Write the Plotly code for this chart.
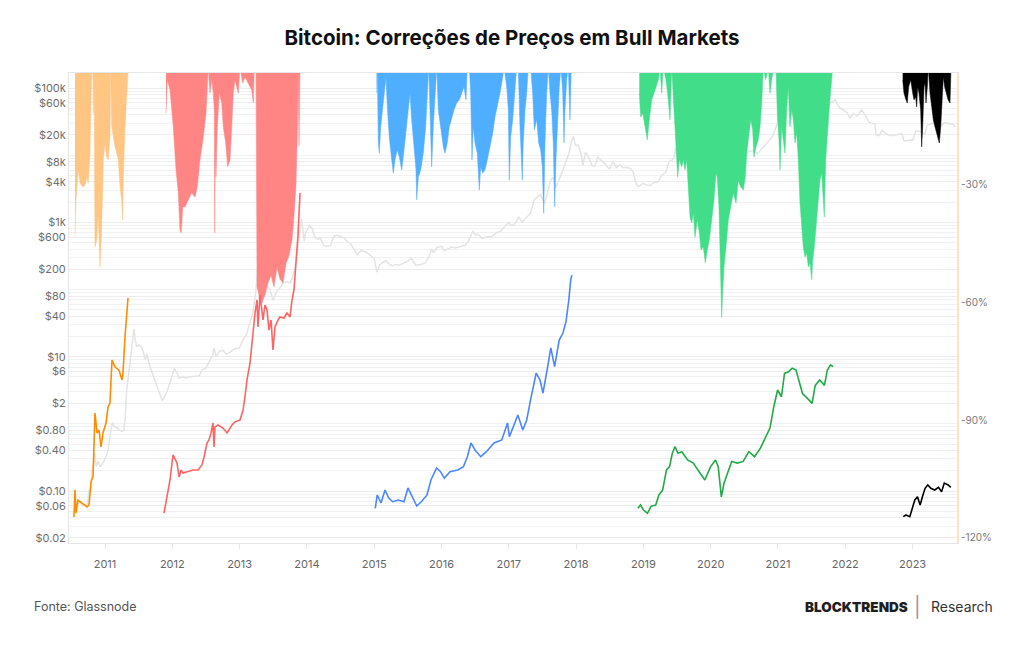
import plotly.graph_objects as go

# ---------------- DATA ----------------
years = list(range(2011, 2024))
year_labels = [str(y) for y in years]

price_tickvals = [0.02, 0.06, 0.10, 0.40, 0.80, 2, 6, 10, 40, 80, 200, 600,
                  1000, 4000, 8000, 20000, 60000, 100000]
price_ticktext = ["$0.02", "$0.06", "$0.10", "$0.40", "$0.80", "$2", "$6", "$10",
                  "$40", "$80", "$200", "$600", "$1k", "$4k", "$8k", "$20k", "$60k", "$100k"]
grid_minor = [m * 10 ** e for e in range(-2, 6) for m in range(1, 10)]

dd_tickvals = [-30, -60, -90, -120]
dd_ticktext = ["-30%", "-60%", "-90%", "-120%"]

# BTC price (grey)
btc_t = [2010.54, 2010.56, 2010.60, 2010.63, 2010.66, 2010.70, 2010.74, 2010.76, 2010.79, 2010.80,
         2010.83, 2010.85, 2010.87, 2010.90, 2010.93, 2010.96, 2011.00, 2011.04, 2011.08, 2011.11,
         2011.14, 2011.18, 2011.22, 2011.25, 2011.28, 2011.30, 2011.32, 2011.35, 2011.38, 2011.41,
         2011.43, 2011.45, 2011.47, 2011.50, 2011.55, 2011.60, 2011.62, 2011.67, 2011.72, 2011.77,
         2011.80, 2011.85, 2011.88, 2011.92, 2011.97, 2012.00, 2012.03, 2012.06, 2012.10, 2012.15,
         2012.20, 2012.25, 2012.30, 2012.35, 2012.40, 2012.45, 2012.50, 2012.55, 2012.60, 2012.62,
         2012.65, 2012.70, 2012.75, 2012.80, 2012.85, 2012.90, 2012.95, 2013.00, 2013.05, 2013.10,
         2013.15, 2013.20, 2013.24, 2013.27, 2013.29, 2013.32, 2013.35, 2013.40, 2013.45, 2013.50,
         2013.55, 2013.60, 2013.65, 2013.70, 2013.75, 2013.78, 2013.82, 2013.86, 2013.90, 2013.92,
         2013.94, 2013.96, 2013.98, 2014.00, 2014.04, 2014.08, 2014.12, 2014.16, 2014.20, 2014.25,
         2014.30, 2014.35, 2014.40, 2014.45, 2014.50, 2014.55, 2014.60, 2014.65, 2014.70, 2014.75,
         2014.80, 2014.85, 2014.90, 2014.95, 2015.00, 2015.04, 2015.08, 2015.12, 2015.17, 2015.22,
         2015.27, 2015.32, 2015.37, 2015.43, 2015.50, 2015.55, 2015.62, 2015.68, 2015.75, 2015.82,
         2015.85, 2015.88, 2015.93, 2016.00, 2016.04, 2016.10, 2016.15, 2016.20, 2016.28, 2016.35,
         2016.40, 2016.45, 2016.47, 2016.50, 2016.55, 2016.60, 2016.68, 2016.75, 2016.82, 2016.88,
         2016.95, 2017.00, 2017.02, 2017.08, 2017.15, 2017.20, 2017.25, 2017.32, 2017.38, 2017.42,
         2017.47, 2017.53, 2017.58, 2017.62, 2017.66, 2017.70, 2017.75, 2017.80, 2017.83, 2017.87,
         2017.90, 2017.93, 2017.96, 2017.99, 2018.03, 2018.08, 2018.10, 2018.14, 2018.18, 2018.24,
         2018.28, 2018.32, 2018.38, 2018.43, 2018.47, 2018.50, 2018.55, 2018.60, 2018.65, 2018.70,
         2018.75, 2018.80, 2018.85, 2018.88, 2018.92, 2018.96, 2019.00, 2019.05, 2019.10, 2019.15,
         2019.22, 2019.27, 2019.33, 2019.38, 2019.43, 2019.46, 2019.48, 2019.50, 2019.55, 2019.58,
         2019.63, 2019.68, 2019.72, 2019.78, 2019.82, 2019.87, 2019.92, 2019.98, 2020.04, 2020.10,
         2020.15, 2020.18, 2020.20, 2020.25, 2020.30, 2020.36, 2020.45, 2020.50, 2020.55, 2020.62,
         2020.70, 2020.78, 2020.85, 2020.92, 2020.98, 2021.03, 2021.08, 2021.12, 2021.15, 2021.20,
         2021.28, 2021.32, 2021.37, 2021.40, 2021.45, 2021.52, 2021.55, 2021.60, 2021.65, 2021.70,
         2021.74, 2021.78, 2021.82, 2021.85, 2021.88, 2021.93, 2021.98, 2022.03, 2022.07, 2022.12,
         2022.17, 2022.24, 2022.30, 2022.35, 2022.40, 2022.44, 2022.46, 2022.50, 2022.55, 2022.60,
         2022.65, 2022.70, 2022.80, 2022.84, 2022.87, 2022.90, 2022.96, 2023.00, 2023.05, 2023.12,
         2023.18, 2023.22, 2023.30, 2023.35, 2023.42, 2023.47, 2023.55, 2023.60, 2023.63]
btc_p = [0.08, 0.07, 0.065, 0.07, 0.062, 0.062, 0.065, 0.10, 0.10, 0.19,
         0.25, 0.36, 0.23, 0.28, 0.23, 0.25, 0.30, 0.38, 0.70, 1.05,
         0.90, 0.87, 0.80, 0.78, 0.80, 1.20, 3.0, 5.5, 8.5, 17,
         26, 18, 14, 15, 13.5, 9, 11, 7, 5, 3.5,
         3.0, 2.2, 2.5, 3.0, 4.2, 5.3, 6.7, 6.0, 4.8, 5.0,
         4.8, 5.0, 5.0, 5.1, 5.2, 6.5, 6.8, 8.5, 10.5, 13.5,
         10, 12, 12.4, 11.0, 11.5, 12.6, 13.3, 13.5, 18, 21,
         30, 46, 90, 230, 70, 120, 130, 115, 100, 68,
         95, 105, 125, 130, 125, 145, 200, 400, 900, 1130,
         800, 520, 700, 750, 900, 800, 600, 560, 580, 450,
         440, 450, 620, 640, 620, 590, 520, 480, 400, 330,
         380, 370, 350, 320, 290, 180, 230, 250, 270, 240,
         225, 235, 230, 245, 265, 290, 230, 235, 245, 310,
         400, 350, 420, 440, 380, 400, 430, 415, 430, 455,
         520, 700, 750, 650, 665, 575, 610, 620, 700, 740,
         900, 1000, 900, 920, 1200, 1000, 1150, 1350, 2200, 2400,
         2600, 1900, 2800, 4200, 4700, 3300, 4300, 5800, 7200, 9000,
         11000, 16000, 19100, 14000, 14000, 10000, 7000, 11000, 9500, 7000,
         6800, 9300, 8200, 7500, 6500, 6300, 8000, 6500, 7200, 6500,
         6600, 6400, 5600, 4000, 3400, 3600, 3800, 3600, 3500, 3900,
         4000, 5000, 5500, 8000, 8500, 9500, 12800, 10800, 9800, 11800,
         10300, 10500, 8300, 8200, 9400, 8500, 7200, 7200, 8500, 10000,
         9000, 8000, 5000, 6500, 7500, 9600, 9300, 9200, 11000, 11700,
         10600, 13000, 15500, 19000, 28000, 39000, 32000, 47000, 48000, 58000,
         63000, 55000, 57000, 37000, 35000, 33000, 30000, 40000, 48000, 43000,
         48000, 61000, 63000, 67000, 58000, 49000, 47000, 42000, 36000, 42000,
         38000, 47000, 39000, 31000, 30000, 29000, 20000, 19500, 23500, 21000,
         20000, 19500, 20500, 21000, 16500, 16200, 16800, 16600, 23000, 22500,
         20500, 28000, 30000, 27500, 26800, 30500, 29200, 29300, 26100]

# Bull market cycles: price path (left axis)
c1_t = [2010.539, 2010.554, 2010.569, 2010.599, 2010.658, 2010.733, 2010.762, 2010.792, 2010.822, 2010.837,
        2010.851, 2010.881, 2010.911, 2010.941, 2010.970, 2011.015, 2011.045, 2011.074, 2011.104, 2011.149,
        2011.208, 2011.253, 2011.267, 2011.297, 2011.327, 2011.342]
c1_p = [0.041, 0.104, 0.047, 0.073, 0.066, 0.058, 0.062, 0.136, 0.162, 0.452,
        1.45, 0.73, 0.81, 0.452, 0.73, 1.03, 1.78, 2.04, 8.9, 7.0,
        6.3, 4.5, 5.7, 19.6, 55, 75]

c2_t = [2011.877, 2011.921, 2011.936, 2011.966, 2012.010, 2012.040, 2012.070, 2012.100, 2012.130, 2012.159,
        2012.218, 2012.308, 2012.382, 2012.441, 2012.471, 2012.516, 2012.545, 2012.575, 2012.605, 2012.620,
        2012.634, 2012.679, 2012.753, 2012.813, 2012.887, 2012.932, 2013.006, 2013.051, 2013.080, 2013.110,
        2013.155, 2013.184, 2013.229, 2013.259, 2013.273, 2013.303, 2013.348, 2013.377, 2013.407, 2013.437,
        2013.467, 2013.496, 2013.526, 2013.571, 2013.600, 2013.660, 2013.704, 2013.749, 2013.779, 2013.808,
        2013.838, 2013.868, 2013.898]
c2_p = [0.047, 0.0815, 0.093, 0.146, 0.344, 0.290, 0.261, 0.162, 0.206, 0.185,
        0.192, 0.206, 0.206, 0.244, 0.321, 0.519, 0.575, 0.731, 1.03, 0.452,
        0.90, 0.96, 0.867, 0.731, 0.96, 1.07, 1.14, 1.61, 2.51, 4.50,
        8.05, 17.7, 44.7, 69.8, 27.7, 82.8, 35.2, 58.8, 49.5, 24.9,
        35.2, 12.6, 27.7, 35.2, 39.0, 37.7, 44.7, 39.0, 69.8, 98.4,
        232, 649, 2735]

c3_t = [2015.016, 2015.045, 2015.101, 2015.161, 2015.216, 2015.274, 2015.358, 2015.443, 2015.502, 2015.557,
        2015.632, 2015.700, 2015.785, 2015.843, 2015.927, 2015.985, 2016.042, 2016.126, 2016.241, 2016.326,
        2016.384, 2016.438, 2016.498, 2016.583, 2016.667, 2016.780, 2016.896, 2016.981, 2017.009, 2017.067,
        2017.135, 2017.208, 2017.266, 2017.323, 2017.407, 2017.464, 2017.508, 2017.578, 2017.624, 2017.681,
        2017.749, 2017.805, 2017.850, 2017.892, 2017.920, 2017.938]
c3_p = [0.0553, 0.0873, 0.0664, 0.1035, 0.0787, 0.0693, 0.0735, 0.0693, 0.111, 0.0873,
        0.0598, 0.0693, 0.0873, 0.146, 0.220, 0.194, 0.156, 0.194, 0.206, 0.230,
        0.324, 0.519, 0.408, 0.324, 0.385, 0.519, 0.575, 1.03, 0.644, 0.906,
        1.355, 0.81, 1.14, 2.26, 5.71, 4.50, 2.88, 7.10, 13.5, 7.10,
        17.7, 22.5, 33.2, 69.8, 139, 164]

c4_t = [2018.917, 2018.957, 2019.002, 2019.060, 2019.116, 2019.184, 2019.230, 2019.287, 2019.343, 2019.389,
        2019.430, 2019.470, 2019.514, 2019.571, 2019.657, 2019.742, 2019.828, 2019.913, 2019.999, 2020.071,
        2020.112, 2020.158, 2020.198, 2020.254, 2020.312, 2020.397, 2020.482, 2020.568, 2020.652, 2020.739,
        2020.823, 2020.881, 2020.938, 2020.994, 2021.052, 2021.097, 2021.155, 2021.211, 2021.268, 2021.308,
        2021.364, 2021.438, 2021.507, 2021.553, 2021.621, 2021.690, 2021.734, 2021.780, 2021.820]
c4_p = [0.0553, 0.0620, 0.0521, 0.0466, 0.0594, 0.0620, 0.0873, 0.1035, 0.206, 0.231,
        0.365, 0.459, 0.365, 0.385, 0.290, 0.260, 0.194, 0.146, 0.231, 0.290,
        0.231, 0.0816, 0.131, 0.184, 0.276, 0.260, 0.276, 0.385, 0.324, 0.434,
        0.644, 0.866, 1.80, 3.19, 2.53, 5.63, 5.96, 6.72, 6.34, 4.50,
        2.83, 2.39, 2.02, 3.74, 4.50, 3.74, 6.34, 7.53, 7.10]

c5_t = [2022.862, 2022.902, 2022.959, 2022.987, 2023.033, 2023.073, 2023.112, 2023.146, 2023.186, 2023.226,
        2023.272, 2023.329, 2023.385, 2023.431, 2023.471, 2023.528, 2023.568]
c5_p = [0.0415, 0.044, 0.0415, 0.0521, 0.0735, 0.0822, 0.0620, 0.0822, 0.1097, 0.123,
        0.1097, 0.1035, 0.1135, 0.0977, 0.131, 0.123, 0.1135]

# Drawdowns from ATH (right axis, %)
d1_t = [2010.554, 2010.569, 2010.603, 2010.629, 2010.669, 2010.703, 2010.728, 2010.752, 2010.777, 2010.792,
        2010.802, 2010.817, 2010.826, 2010.837, 2010.851, 2010.877, 2010.900, 2010.926, 2010.951, 2010.975,
        2011.000, 2011.025, 2011.049, 2011.074, 2011.085, 2011.100, 2011.123, 2011.149, 2011.174, 2011.198,
        2011.223, 2011.248, 2011.263, 2011.272, 2011.297, 2011.322, 2011.346]
d1_v = [-42.8, -33.8, -26.2, -29.5, -30.5, -30.0, -28.0, -29.5, -21.9, -2.5,
        0, 0, -11.7, 0, -45.8, -44.0, -37.2, -50.9, -40.7, -23.6,
        -19.3, -22.9, -23.6, -17.8, 0, -15.2, -17.8, -20.3, -21.9, -23.6,
        -30.5, -33.8, -38.9, -28.0, -15.2, -6.6, 0]

d2_t = [2011.906, 2011.926, 2011.966, 2012.015, 2012.055, 2012.089, 2012.114, 2012.134, 2012.155, 2012.189,
        2012.238, 2012.288, 2012.337, 2012.371, 2012.412, 2012.461, 2012.501, 2012.520, 2012.535, 2012.560,
        2012.585, 2012.609, 2012.624, 2012.630, 2012.639, 2012.649, 2012.669, 2012.698, 2012.734, 2012.758,
        2012.793, 2012.823, 2012.857, 2012.883, 2012.906, 2012.932, 2012.957, 2012.981, 2013.006, 2013.046,
        2013.080, 2013.129, 2013.180, 2013.204, 2013.218, 2013.244, 2013.259, 2013.288, 2013.333, 2013.377,
        2013.422, 2013.467, 2013.511, 2013.556, 2013.600, 2013.645, 2013.690, 2013.734, 2013.779, 2013.808,
        2013.838, 2013.860, 2013.868, 2013.883, 2013.898]
d2_v = [-11.7, -3.2, -5.8, -15.2, -26.2, -32.0, -41.5, -42.2, -35.6, -35.6,
        -33.8, -32.0, -33.1, -30.5, -23.6, -17.8, -11.7, -6.6, 0, -6.6,
        -3.2, -6.6, -10.9, -42.2, -21.1, -28.0, -15.2, -6.6, -9.1, -15.2,
        -19.3, -25.4, -23.6, -15.2, -6.6, -3.2, -5.0, -6.6, 0, -4.0,
        -2.5, -4.0, -5.8, -9.1, 0, 0, -56, -58, -60, -58,
        -55, -53, -56, -51, -54, -55, -50, -48, -44, -38,
        -30, -15, 0, -20, 0]

d3_t = [2015.037, 2015.046, 2015.061, 2015.076, 2015.097, 2015.126, 2015.146, 2015.175, 2015.195, 2015.224,
        2015.260, 2015.284, 2015.309, 2015.343, 2015.373, 2015.409, 2015.432, 2015.473, 2015.507, 2015.532,
        2015.557, 2015.591, 2015.621, 2015.632, 2015.655, 2015.691, 2015.730, 2015.765, 2015.789, 2015.810,
        2015.829, 2015.854, 2015.878, 2015.908, 2015.929, 2015.953, 2015.988, 2016.027, 2016.052, 2016.086,
        2016.116, 2016.152, 2016.186, 2016.226, 2016.265, 2016.300, 2016.334, 2016.364, 2016.383, 2016.413,
        2016.434, 2016.453, 2016.473, 2016.498, 2016.532, 2016.562, 2016.583, 2016.612, 2016.646, 2016.681,
        2016.721, 2016.761, 2016.795, 2016.829, 2016.869, 2016.910, 2016.929, 2016.969, 2016.993, 2017.007,
        2017.028, 2017.058, 2017.092, 2017.117, 2017.141, 2017.166, 2017.201, 2017.215, 2017.241, 2017.266,
        2017.290, 2017.325, 2017.355, 2017.379, 2017.415, 2017.444, 2017.474, 2017.498, 2017.519, 2017.538,
        2017.563, 2017.587, 2017.612, 2017.637, 2017.661, 2017.682, 2017.701, 2017.727, 2017.750, 2017.776,
        2017.801, 2017.820, 2017.835, 2017.860, 2017.884, 2017.909, 2017.929]
d3_v = [-6.6, 0, -19.3, -21.9, -15.2, -10.9, -6.6, -2.5, -10.1, -17.8,
        -23.6, -27.0, -23.6, -21.1, -22.9, -26.2, -22.9, -16.8, -10.9, -6.6,
        -13.4, -19.3, -26.2, -33.8, -28.0, -26.2, -21.9, -15.2, -6.6, 0,
        -10.9, -25.4, -15.2, -6.6, 0, -10.9, -15.2, -20.3, -21.9, -19.3,
        -15.2, -12.7, -10.9, -9.1, -8.3, -6.6, -5.0, -8.3, 0, 0,
        -6.6, -23.6, -15.2, -19.3, -21.9, -31.3, -25.4, -27.0, -26.2, -23.6,
        -20.3, -16.8, -12.7, -10.1, -6.6, -2.5, 0, -5.0, -10.9, -28.8,
        -17.8, -13.4, -6.6, 0, 0, -15.2, -28.8, -19.3, -10.9, -6.6,
        0, 0, -6.6, -16.0, -13.4, -19.3, -21.1, -25.4, -37.2, -19.3,
        -6.6, 0, -6.6, -10.9, -19.3, -35.6, -23.6, -11.7, -5.0, 0,
        -6.6, -19.3, -10.9, -3.2, 0, -13.4, 0]

d4_t = [2018.939, 2018.960, 2018.990, 2019.024, 2019.058, 2019.088, 2019.123, 2019.158, 2019.187, 2019.222,
        2019.247, 2019.272, 2019.296, 2019.336, 2019.370, 2019.395, 2019.421, 2019.455, 2019.485, 2019.510,
        2019.534, 2019.569, 2019.593, 2019.618, 2019.643, 2019.667, 2019.693, 2019.718, 2019.742, 2019.767,
        2019.801, 2019.831, 2019.856, 2019.890, 2019.920, 2019.950, 2019.979, 2020.015, 2020.049, 2020.079,
        2020.098, 2020.123, 2020.138, 2020.153, 2020.163, 2020.178, 2020.198, 2020.227, 2020.262, 2020.297,
        2020.336, 2020.376, 2020.410, 2020.446, 2020.485, 2020.514, 2020.535, 2020.559, 2020.595, 2020.624,
        2020.643, 2020.673, 2020.707, 2020.733, 2020.758, 2020.782, 2020.817, 2020.856, 2020.881, 2020.906,
        2020.941, 2020.970, 2020.990, 2021.015, 2021.030, 2021.055, 2021.079, 2021.104, 2021.129, 2021.153,
        2021.178, 2021.204, 2021.228, 2021.253, 2021.278, 2021.302, 2021.327, 2021.352, 2021.376, 2021.401,
        2021.427, 2021.450, 2021.476, 2021.501, 2021.516, 2021.540, 2021.575, 2021.599, 2021.624, 2021.650,
        2021.673, 2021.688, 2021.709, 2021.733, 2021.763, 2021.788, 2021.813]
d4_v = [-6.6, -12.7, -11.7, -15.2, -18.5, -13.4, -8.3, -6.6, -5.0, -3.2,
        0, -6.6, 0, -3.2, -8.3, -13.4, 0, -10.9, -19.3, -28.0,
        -23.6, -25.4, -23.6, -26.2, -23.6, -29.5, -38.2, -39.7, -37.2, -43.3,
        -38.9, -42.2, -46.6, -45.8, -49.9, -46.6, -44.0, -38.9, -33.8, -27.0,
        -28.0, -35.6, -49.1, -57.5, -63.7, -57.5, -50.9, -45.8, -38.9, -35.6,
        -32.0, -34.6, -28.8, -30.5, -31.3, -28.0, -21.9, -18.5, -13.4, -16.0,
        -22.9, -20.3, -18.5, -15.2, -9.1, 0, -3.2, 0, -6.6, -3.2,
        0, 0, -11.7, -18.5, -26.2, -15.2, -19.3, -21.9, -10.9, -5.0,
        -15.2, -10.9, -13.4, -19.3, -16.8, -23.6, -34.6, -40.7, -45.8, -48.4,
        -47.4, -50.9, -49.9, -54.2, -49.1, -45.8, -38.9, -32.0, -28.8, -27.0,
        -35.6, -38.2, -23.6, -16.8, -10.1, -5.0, 0]

d5_t = [2022.853, 2022.872, 2022.902, 2022.921, 2022.942, 2022.972, 2023.002, 2023.021, 2023.046, 2023.061,
        2023.076, 2023.095, 2023.120, 2023.135, 2023.150, 2023.170, 2023.185, 2023.199, 2023.219, 2023.234,
        2023.259, 2023.284, 2023.308, 2023.333, 2023.358, 2023.382, 2023.397, 2023.418, 2023.437, 2023.457,
        2023.477, 2023.502, 2023.527, 2023.556, 2023.571]
d5_v = [-3.2, -6.6, -8.3, -9.1, -5.0, -3.2, -6.6, -8.3, -7.6, -10.1,
        -5.0, -6.6, -10.9, -20.3, -15.2, -5.0, -4.0, -9.1, -5.0, 0,
        -6.6, -10.1, -13.4, -15.2, -16.8, -17.8, -19.3, -15.2, -6.6, -2.5,
        -5.0, -6.6, -8.3, -9.1, 0]

cycles = [
    (c1_t, c1_p, d1_t, d1_v, "#FF8C00", "#FFC583"),
    (c2_t, c2_p, d2_t, d2_v, "#FF6464", "#FF8585"),
    (c3_t, c3_p, d3_t, d3_v, "#4A86FF", "#4FAEFF"),
    (c4_t, c4_p, d4_t, d4_v, "#22AA44", "#41DD88"),
    (c5_t, c5_p, d5_t, d5_v, "#000000", "#000000"),
]

# ---------------- FIGURE ----------------
FONT = "Inter"
fig = go.Figure()

fig.add_trace(go.Scatter(x=btc_t, y=btc_p, mode="lines", yaxis="y",
                         line=dict(color="#E4E4E4", width=1.5), hoverinfo="skip"))

for ct, cp, dt, dv, lc, fc in cycles:
    fig.add_trace(go.Scatter(x=dt, y=dv, mode="lines", yaxis="y2",
                             line=dict(color=fc, width=0.5), fill="tozeroy",
                             fillcolor=fc, hoverinfo="skip"))

for ct, cp, dt, dv, lc, fc in cycles:
    fig.add_trace(go.Scatter(x=ct, y=cp, mode="lines", yaxis="y3",
                             line=dict(color=lc, width=1.6), hoverinfo="skip"))

log_range = [-1.774, 5.2233]

fig.update_layout(
    width=1024, height=645,
    margin=dict(l=69, r=67, t=73, b=102),
    paper_bgcolor="white", plot_bgcolor="white",
    showlegend=False,
    title=dict(text="<b>Bitcoin: Correções de Preços em Bull Markets</b>",
               x=0.5, xanchor="center", y=1 - 38 / 645, yanchor="middle",
               font=dict(family=FONT, size=20.5, color="#111111")),
    xaxis=dict(range=[2010.465, 2023.660], tickmode="array", tickvals=years,
               ticktext=year_labels, showgrid=False, zeroline=False,
               showline=True, linecolor="#E6E6E6", linewidth=1, mirror=True,
               ticks="outside", ticklen=5, tickcolor="#E6E6E6",
               ticklabelstandoff=6,
               tickfont=dict(family=FONT, size=11, color="#666666")),
    yaxis=dict(type="log", range=log_range, tickmode="array",
               tickvals=price_tickvals, ticktext=price_ticktext,
               showgrid=True, gridcolor="#EDEDED", gridwidth=1,
               minor=dict(tickmode="array", tickvals=grid_minor, showgrid=True,
                          gridcolor="#F1F1F1", ticks=""),
               zeroline=False, showline=True, linecolor="#E6E6E6",
               ticks="", tickfont=dict(family=FONT, size=11, color="#6E6E6E")),
    yaxis2=dict(overlaying="y", side="right", range=[-121.29, -1.45],
                tickmode="array", tickvals=dd_tickvals, ticktext=dd_ticktext,
                showgrid=False, zeroline=False, showline=True,
                linecolor="#FFE2C4", linewidth=2, ticks="",
                tickfont=dict(family=FONT, size=10, color="#777777")),
    yaxis3=dict(overlaying="y", type="log", range=log_range, visible=False),
)

fig.add_annotation(text="Fonte: Glassnode", xref="paper", yref="paper",
                   x=-0.0417, y=-0.136, xanchor="left", yanchor="middle",
                   showarrow=False, font=dict(family=FONT, size=12.5, color="#555555"))
fig.add_annotation(text="BLOCKTRENDS", xref="paper", yref="paper",
                   x=0.947, y=-0.136, xanchor="right", yanchor="middle",
                   showarrow=False,
                   font=dict(family=FONT, size=13.5, color="#1E1E1E", weight=900))
fig.add_annotation(text="|", xref="paper", yref="paper",
                   x=0.956, y=-0.136, xanchor="center", yanchor="middle",
                   showarrow=False, font=dict(family=FONT, size=20, color="#9A9A9A"))
fig.add_annotation(text="Research", xref="paper", yref="paper",
                   x=0.9685, y=-0.136, xanchor="left", yanchor="middle",
                   showarrow=False, font=dict(family=FONT, size=14, color="#333333"))

fig.write_html("out.html")
